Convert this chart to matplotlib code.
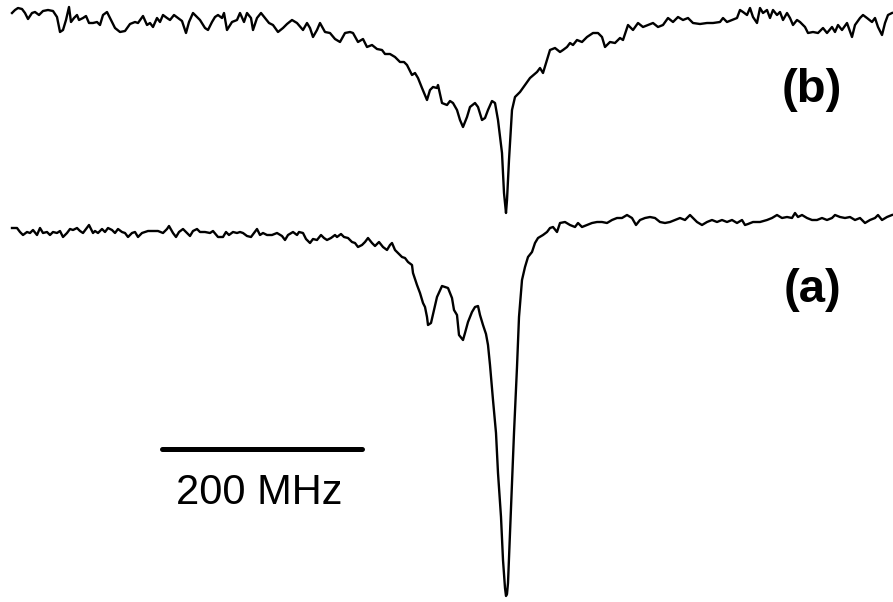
import matplotlib
matplotlib.use("Agg")
import matplotlib.pyplot as plt

# frequency (MHz, arbitrary origin) and trace depth (arb. units, downward)
# trace (b)
freq_b = [12, 15, 18, 22, 25, 28, 32, 35, 39, 43, 48, 53, 57, 60, 63, 66, 69, 71, 74, 77,
          79, 83, 86, 89, 93, 97, 100, 103, 107, 110, 115, 120, 125, 130, 135, 138, 143, 147, 150, 153,
          157, 160, 163, 167, 170, 174, 178, 182, 186, 189, 193, 197, 200, 205, 208, 212, 215, 218, 222, 224,
          227, 232, 237, 240, 244, 247, 251, 253, 257, 261, 265, 269, 273, 278, 283, 287, 292, 297,
          303, 307, 310, 313, 317, 320, 325, 330, 335, 340, 345, 350, 353, 358, 363, 367, 372, 377, 382, 385,
          390, 395, 400, 404, 407, 412, 415, 418, 422, 427, 430, 433, 437, 438, 442, 447, 450, 453, 457, 460,
          463, 467, 470, 475, 478, 482, 485, 488, 492, 495, 498, 502, 504, 506, 507, 509, 512, 515, 520, 525,
          530, 537, 540, 543, 547, 550, 555, 560, 563, 567, 570, 573, 577, 582, 587, 593, 598, 602, 605, 610,
          615, 620, 623, 628, 633, 638, 643, 648, 653, 658, 663, 668, 673, 678, 683, 688, 693, 700, 707, 713,
          720, 723, 727, 732, 737, 740, 743, 747, 750, 753, 757, 760, 763, 767, 770, 773, 777, 780, 783, 787,
          790, 793, 797, 800, 805, 808, 813, 818, 823, 827, 832, 835, 838, 842, 847, 852, 855, 860, 863, 867,
          872, 875, 878, 882, 885, 888, 892]
depth_b = [13, 10, 8, 9, 13, 19, 13, 12, 15, 11, 10, 11, 17, 32, 30, 20, 7, 22, 18, 15,
           20, 18, 16, 23, 23, 22, 25, 15, 12, 18, 28, 32, 31, 24, 22, 23, 16, 25, 23, 27,
           18, 22, 15, 18, 20, 15, 18, 21, 33, 22, 13, 17, 20, 28, 30, 22, 17, 15, 18, 13,
           30, 22, 20, 13, 22, 13, 18, 30, 18, 13, 18, 23, 25, 32, 28, 24, 20, 23,
           30, 23, 28, 37, 30, 23, 32, 33, 39, 42, 33, 32, 33, 42, 39, 47, 45, 49, 50, 54,
           54, 57, 62, 62, 65, 75, 73, 78, 88, 100, 90, 87, 88, 85, 103, 105, 101, 103, 110, 120,
           127, 117, 107, 103, 107, 120, 118, 110, 101, 103, 120, 153, 193, 213, 200, 160, 110, 97, 92, 85,
           78, 72, 68, 73, 60, 50, 48, 52, 50, 47, 43, 45, 40, 42, 37, 33, 33, 37, 47, 42,
           43, 38, 40, 25, 30, 23, 27, 25, 23, 27, 25, 18, 22, 17, 20, 18, 23, 24, 23, 23,
           22, 18, 22, 20, 18, 10, 12, 15, 8, 17, 23, 8, 13, 10, 18, 10, 15, 12, 20, 13,
           18, 25, 20, 22, 27, 33, 32, 33, 28, 33, 27, 32, 25, 30, 23, 37, 25, 18, 15, 18,
           22, 18, 27, 35, 23, 15, 13]

# trace (a)
freq_a = [12, 17, 20, 23, 27, 30, 33, 37, 40, 43, 47, 50, 53, 57, 60, 63, 67, 70, 73, 77,
          80, 83, 86, 89, 93, 95, 98, 102, 105, 108, 112, 115, 118, 122, 125, 128, 132, 135, 138, 142,
          145, 148, 153, 158, 163, 167, 169, 173, 176, 179, 183, 187, 190, 193, 197, 200, 205, 210, 213, 218,
          223, 226, 229, 233, 237, 240, 243, 247, 251, 254, 257, 260, 263, 267, 272, 277, 282, 285, 288,
          293, 297, 299, 303, 306, 310, 313, 317, 321, 324, 327, 331, 335, 337, 341, 344, 348, 352, 355, 358,
          362, 365, 368, 372, 375, 379,
          383, 387, 390, 392, 395, 398, 402, 405, 408, 412, 413, 417, 420, 423, 425, 427, 428, 431, 434, 437,
          442, 445, 448, 452, 454, 457, 459, 463, 465, 468, 472, 475, 478, 480, 483, 486, 488, 490, 493, 496, 498,
          501, 503, 505, 506, 507, 508, 510, 512, 514, 517, 519, 522, 525, 528, 532, 535, 538, 543, 547, 550, 553, 557,
          560, 565, 570, 575, 578, 582, 587, 592, 597, 602, 607, 612, 617, 622, 627, 632, 636, 640, 645, 650,
          655, 660, 665, 670, 675, 680, 685, 690, 693, 697, 702, 707, 712, 717, 722, 727, 732, 737, 742, 745,
          748, 753, 760, 767, 772, 777, 782, 787, 792, 795, 798, 802, 807, 812, 817, 822, 827, 832, 835, 840,
          845, 850, 855, 860, 865, 870, 875, 878, 882, 887, 892]
depth_a = [228, 228, 232, 235, 232, 233, 230, 235, 228, 233, 232, 235, 232, 233, 231, 237, 233, 229, 230, 228,
           231, 233, 229, 225, 233, 231, 233, 229, 232, 228, 230, 233, 229, 232, 233, 237, 233, 232, 237, 233,
           232, 231, 231, 231, 233, 229, 226, 233, 237, 232, 229, 233, 236, 231, 229, 232, 232, 233, 231, 237,
           237, 232, 235, 232, 233, 232, 233, 236, 237, 233, 229, 235, 233, 235, 235, 233, 236, 240, 235,
           232, 235, 232, 233, 239, 243, 239, 240, 235, 238, 240, 238, 235, 237, 234, 237, 238, 242, 243, 247,
           245, 242, 238, 243, 246, 242,
           247, 250, 245, 243, 250, 253, 257, 258, 262, 265, 273, 285, 293, 303, 307, 317, 325, 323, 310, 297,
           286, 287, 288, 298, 310, 315, 335, 340, 333, 322, 312, 307, 306, 315, 325, 334, 345, 365, 400, 433, 473,
           517, 560, 588, 596, 594, 583, 533, 483, 433, 367, 317, 280, 267, 257, 252, 243, 238, 235, 232, 228, 227, 232,
           223, 222, 225, 227, 223, 227, 225, 223, 222, 222, 223, 220, 218, 218, 215, 218, 225, 220, 218, 217,
           218, 222, 223, 222, 220, 218, 220, 215, 218, 222, 225, 222, 220, 222, 220, 222, 220, 223, 220, 225,
           224, 222, 222, 220, 218, 215, 218, 217, 218, 213, 217, 215, 218, 220, 220, 218, 220, 218, 215, 217,
           218, 217, 220, 218, 223, 220, 218, 215, 220, 217, 215]

scale_x = [162, 362]   # 200 MHz bar
scale_y = [449, 449]

plt.rcParams['font.family'] = ['Liberation Sans', 'DejaVu Sans']

fig = plt.figure(figsize=(8.93, 6.02), dpi=100)
ax = fig.add_axes([0, 0, 1, 1])

ax.plot(freq_b, depth_b, color='black', lw=1.7, solid_joinstyle='round')
ax.plot(freq_a, depth_a, color='black', lw=1.7, solid_joinstyle='round')
ax.plot(scale_x, scale_y, color='black', lw=3.6, solid_capstyle='round')

ax.text(259, 493, '200 MHz', fontsize=30, ha='center', va='center')
ax.text(812, 90, '(b)', fontsize=34, fontweight='bold', ha='center', va='center')
ax.text(812, 290, '(a)', fontsize=34, fontweight='bold', ha='center', va='center')

ax.set_xlim(0, 893)
ax.set_ylim(602, 0)
ax.axis('off')

plt.savefig('out.png', dpi=100)
